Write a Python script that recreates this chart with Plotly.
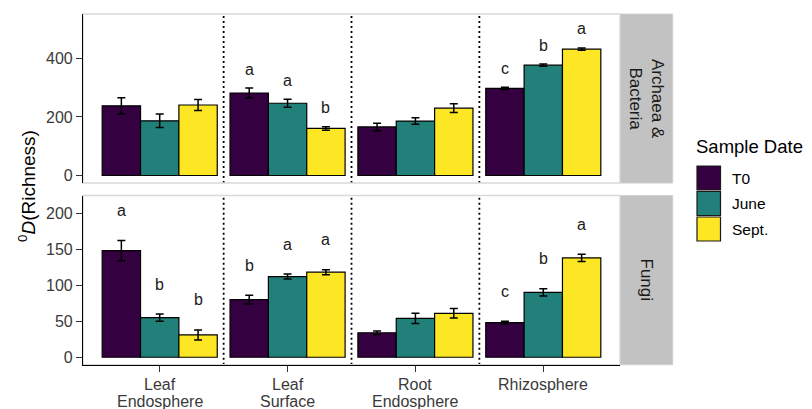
import plotly.graph_objects as go

# ---------------- data ----------------
categories = ["Leaf\nEndosphere", "Leaf\nSurface", "Root\nEndosphere", "Rhizosphere"]
dates = ["T0", "June", "Sept."]
colors = ["#35003F", "#21817A", "#FDE725"]

bact_T0 = [238, 282, 166, 298]
bact_T0_se = [28, 17, 13, 4]
bact_June = [187, 247, 186, 377]
bact_June_se = [23, 14, 11, 4]
bact_Sept = [241, 161, 230, 432]
bact_Sept_se = [19, 6, 15, 4]

fungi_T0 = [148, 80, 34, 48]
fungi_T0_se = [14, 6, 2.5, 2]
fungi_June = [55, 112, 54, 90]
fungi_June_se = [5, 3.5, 7, 5]
fungi_Sept = [31, 118, 61, 138]
fungi_Sept_se = [7, 3.5, 6.5, 5]

bact_letters_T0 = ["", "a", "", "c"]
bact_letters_June = ["", "a", "", "b"]
bact_letters_Sept = ["", "b", "", "a"]
fungi_letters_T0 = ["a", "b", "", "c"]
fungi_letters_June = ["b", "a", "", "b"]
fungi_letters_Sept = ["b", "a", "", "a"]

panel_names = ["Archaea &<br>Bacteria", "Fungi"]
bact_ticks = [0, 200, 400]
fungi_ticks = [0, 50, 100, 150, 200]

# ---------------- layout constants ----------------
W, H = 812, 409
OFF = 8  # page body margin
FONT = "Liberation Sans, Arial, sans-serif"
TXT = "#3A3A3A"
x_pos = [1, 2, 3, 4]
bargap = 0.1
bw = (1 - bargap) / 3


def px_x(p):
    return (p - OFF) / W


def px_y(p):
    return (H - (p - OFF)) / H


xdom = [px_x(83), px_x(620)]
ydom_top = [px_y(183), px_y(14)]
ydom_bot = [px_y(364.7), px_y(195.5)]

fig = go.Figure()

panels = [
    ("x", "y", [bact_T0, bact_June, bact_Sept], [bact_T0_se, bact_June_se, bact_Sept_se],
     [bact_letters_T0, bact_letters_June, bact_letters_Sept], 19),
    ("x2", "y2", [fungi_T0, fungi_June, fungi_Sept], [fungi_T0_se, fungi_June_se, fungi_Sept_se],
     [fungi_letters_T0, fungi_letters_June, fungi_letters_Sept], 30),
]

annotations = []
shapes = []

for xa, ya, vals, ses, lets, lshift in panels:
    for i, d in enumerate(dates):
        fig.add_trace(go.Bar(
            x=x_pos, y=vals[i], name=d, xaxis=xa, yaxis=ya,
            marker=dict(color=colors[i], line=dict(color="black", width=1.2)),
            error_y=dict(type="data", array=ses[i], color="black", thickness=1.5, width=4),
            showlegend=False,
        ))
        off = (i - 1) * bw
        for k, lt in enumerate(lets[i]):
            if lt:
                annotations.append(dict(
                    x=x_pos[k] + off, y=vals[i][k] + ses[i][k], xref=xa, yref=ya,
                    text=lt, showarrow=False, xanchor="center", yanchor="middle", yshift=lshift,
                    font=dict(size=16, color="#1A1A1A", family=FONT)))
    # dotted separators
    for k in range(len(x_pos) - 1):
        xs = (x_pos[k] + x_pos[k + 1]) / 2
        shapes.append(dict(type="line", xref=xa, yref=ya + " domain", x0=xs, x1=xs, y0=0, y1=1,
                           line=dict(color="black", width=1.8, dash="2px,3px"), layer="below"))

# x category labels (two lines with tight spacing, placed on the x2 scale)
for k, cat in enumerate(categories):
    for j, line in enumerate(cat.split("\n")):
        annotations.append(dict(x=x_pos[k], xref="x2", y=px_y(384 + 17 * j), yref="paper",
                                xanchor="center", yanchor="middle", text=line, showarrow=False,
                                font=dict(size=16, color=TXT, family=FONT)))

# panel borders and strips
for dom, name in [(ydom_top, panel_names[0]), (ydom_bot, panel_names[1])]:
    shapes.append(dict(type="rect", xref="paper", yref="paper", x0=xdom[0], x1=xdom[1],
                       y0=dom[0], y1=dom[1], line=dict(color="#D9D9D9", width=1.5), layer="below"))
    shapes.append(dict(type="rect", xref="paper", yref="paper", x0=px_x(620.5), x1=px_x(672.7),
                       y0=dom[0], y1=dom[1], fillcolor="#C2C2C2", line=dict(color="#D0D0D0", width=1),
                       layer="below"))
    annotations.append(dict(x=px_x(646.6), y=(dom[0] + dom[1]) / 2, xref="paper", yref="paper",
                            xanchor="center", yanchor="middle",
                            text=name, textangle=90, showarrow=False,
                            font=dict(size=17, color="#1A1A1A", family=FONT)))

# y-axis title
annotations.append(dict(x=px_x(27), y=px_y(186), xref="paper", yref="paper",
                        xanchor="center", yanchor="middle",
                        text="<sup>0</sup><i>D</i>(Richness)", textangle=-90, showarrow=False,
                        font=dict(size=19, color="black", family=FONT)))

# custom legend
annotations.append(dict(x=px_x(694), y=px_y(147), xref="paper", yref="paper",
                        xanchor="left", yanchor="middle",
                        text="Sample Date", showarrow=False,
                        font=dict(size=18.5, color="black", family=FONT)))
for i, d in enumerate(dates):
    top = 166 + i * 25.5
    shapes.append(dict(type="rect", xref="paper", yref="paper", x0=px_x(697), x1=px_x(720.5),
                       y0=px_y(top + 24), y1=px_y(top), fillcolor=colors[i],
                       line=dict(color="#1A1A1A", width=1.2)))
    annotations.append(dict(x=px_x(730), y=px_y(top + 12), xref="paper", yref="paper",
                            xanchor="left", yanchor="middle", text=d, showarrow=False,
                            font=dict(size=15.5, color="black", family=FONT)))

axis_common = dict(showgrid=False, zeroline=False, ticks="outside", tickwidth=1,
                   tickcolor="#333333", tickfont=dict(size=16, color=TXT, family=FONT))

fig.update_layout(
    width=W, height=H, margin=dict(l=0, r=0, t=0, b=0),
    paper_bgcolor="white", plot_bgcolor="rgba(0,0,0,0)",
    barmode="group", bargap=bargap, bargroupgap=0,
    font=dict(family=FONT),
    xaxis=dict(domain=xdom, anchor="y", range=[0.4, 4.6], showgrid=False, zeroline=False,
               showticklabels=False, ticks="", showline=False),
    yaxis=dict(domain=ydom_top, anchor="x", range=[-25.6, 552], tickvals=bact_ticks, ticklen=6,
               showline=True, linecolor="black", linewidth=1.2, **axis_common),
    xaxis2=dict(domain=xdom, anchor="y2", range=[0.4, 4.6], tickvals=x_pos, showticklabels=False,
                ticklen=6, showline=True, linecolor="black", linewidth=1.2, **axis_common),
    yaxis2=dict(domain=ydom_bot, anchor="x2", range=[-10.3, 224.4], tickvals=fungi_ticks, ticklen=6,
                showline=True, linecolor="black", linewidth=1.2, **axis_common),
    annotations=annotations, shapes=shapes,
)

fig.write_html("out.html")
